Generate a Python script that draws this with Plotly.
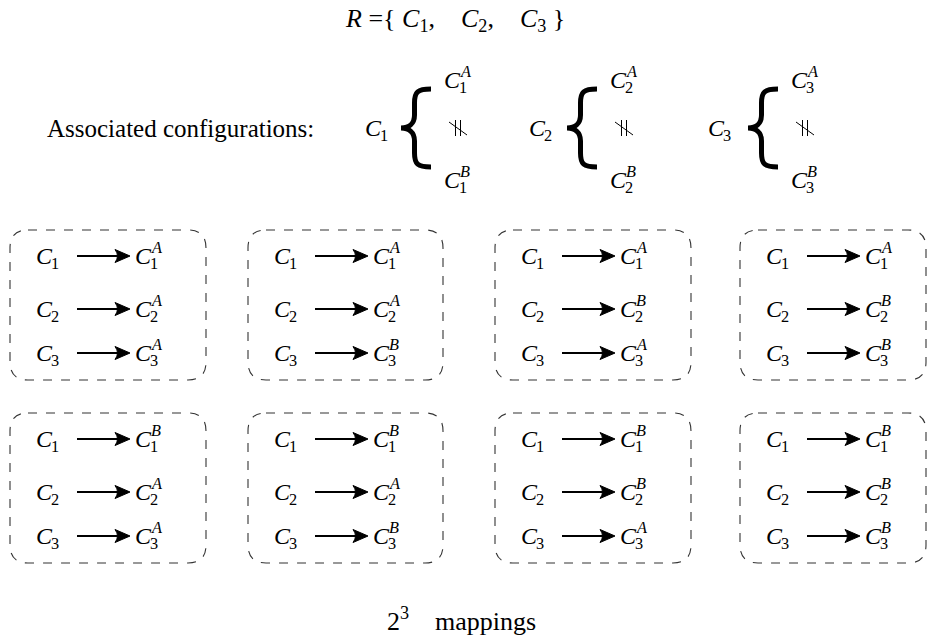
import plotly.graph_objects as go

# ---------------- data ----------------
config_ids = ["1", "2", "3"]
variants = ["A", "B"]
# the 2^3 mappings, row by row (choice of variant for C1, C2, C3)
mappings = [
    ["A", "A", "A"], ["A", "A", "B"], ["A", "B", "A"], ["A", "B", "B"],
    ["B", "A", "A"], ["B", "A", "B"], ["B", "B", "A"], ["B", "B", "B"],
]
title_label = "R"
assoc_label = "Associated configurations:"
footer_base = "2"
footer_exp = "3"
footer_text = "mappings"

# ---------------- layout constants ----------------
W, H = 931, 636
FONT = "Liberation Serif"
FS = 24
BLACK = "#000000"

box_left = [10, 248, 495, 740]
box_width = [196, 195, 196, 186]
box_top = [230, 413]
box_height = 150
row_offsets = [26, 79, 123]

group_x = [364, 528, 707]     # left of C_i in the "associated" section
group_y = 128

fig = go.Figure()
fig.add_trace(go.Scatter(x=[0, W], y=[0, H], mode="markers",
                         marker=dict(opacity=0), hoverinfo="skip"))

annotations = []
shapes = []


def text(x, y, s, size=FS, xanchor="left", italic=False):
    if italic:
        s = "<i>" + s + "</i>"
    annotations.append(dict(x=x, y=y, xref="x", yref="y", text=s, showarrow=False,
                            xanchor=xanchor, yanchor="middle", borderpad=0,
                            font=dict(family=FONT, size=size, color=BLACK)))


def var(x, y, sub, sup=None, size=FS):
    text(x, y, "C", size=size, italic=True)
    off = size * 0.64
    text(x + off, y + size * 0.30, sub, size=size * 0.68)
    if sup is not None:
        text(x + off + 1, y - size * 0.36, sup, size=size * 0.68, italic=True)


def arrow(x0, x1, y):
    shapes.append(dict(type="line", xref="x", yref="y", x0=x0, x1=x1 - 8, y0=y, y1=y,
                       line=dict(color=BLACK, width=2)))
    L, hw, n = 15, 6.5, 10
    path = (f"M {x1},{y} L {x1 - L},{y - hw} Q {x1 - n},{y} {x1 - L},{y + hw} Z")
    shapes.append(dict(type="path", xref="x", yref="y", path=path,
                       fillcolor=BLACK, line=dict(color=BLACK, width=1)))


def not_parallel(cx, cy):
    for dx in (-2.5, 2.5):
        shapes.append(dict(type="line", xref="x", yref="y", x0=cx + dx, x1=cx + dx,
                           y0=cy - 8, y1=cy + 8, line=dict(color=BLACK, width=1)))
    shapes.append(dict(type="line", xref="x", yref="y", x0=cx - 9, x1=cx + 9,
                       y0=cy - 6, y1=cy + 7, line=dict(color=BLACK, width=1)))


def rounded_box(x0, y0, w, h, r=18):
    x1, y1 = x0 + w, y0 + h
    path = (f"M {x0 + r},{y0} L {x1 - r},{y0} Q {x1},{y0} {x1},{y0 + r} "
            f"L {x1},{y1 - r} Q {x1},{y1} {x1 - r},{y1} L {x0 + r},{y1} "
            f"Q {x0},{y1} {x0},{y1 - r} L {x0},{y0 + r} Q {x0},{y0} {x0 + r},{y0} Z")
    shapes.append(dict(type="path", xref="x", yref="y", path=path,
                       line=dict(color="#333333", width=1.1, dash="dash")))


def brace(x0, cy, h=39, w=30):
    xs = x0 + w * 0.45
    p = (f"M {x0 + w},{cy - h} C {x0 + w * 0.55},{cy - h} {xs},{cy - h + 3} {xs},{cy - h + 14} "
         f"L {xs},{cy - 13} C {xs},{cy - 4} {x0 + w * 0.25},{cy} {x0},{cy} "
         f"C {x0 + w * 0.25},{cy} {xs},{cy + 4} {xs},{cy + 13} "
         f"L {xs},{cy + h - 14} C {xs},{cy + h - 3} {x0 + w * 0.55},{cy + h} {x0 + w},{cy + h}")
    shapes.append(dict(type="path", xref="x", yref="y", path=p,
                       line=dict(color=BLACK, width=5)))


# ---------------- title ----------------
parts = ",\u00a0\u00a0\u00a0 ".join(f"<i>C</i><sub>{c}</sub>" for c in config_ids)
text(455, 20, f"<i>{title_label}</i> ={{ " + parts + " }", xanchor="center", size=26)

# ---------------- associated configurations ----------------
text(46, group_y, assoc_label, size=25)
for i, c in enumerate(config_ids):
    gx = group_x[i]
    var(gx, group_y, c)
    bx = gx + 37 + (2 * i)
    brace(bx, group_y)
    vx = bx + 42
    var(vx, group_y - 48, c, variants[0])
    var(vx, group_y + 52, c, variants[1])
    not_parallel(vx + 15, group_y)

# ---------------- mapping boxes ----------------
for k, m in enumerate(mappings):
    row, col = divmod(k, 4)
    x0, y0 = box_left[col], box_top[row]
    rounded_box(x0, y0, box_width[col], box_height)
    for j, c in enumerate(config_ids):
        y = y0 + row_offsets[j]
        var(x0 + 25, y, c)
        arrow(x0 + 67, x0 + 120, y)
        var(x0 + 124, y, c, m[j])

# ---------------- footer ----------------
text(461, 619, f"{footer_base}<sup>{footer_exp}</sup>\u00a0\u00a0\u00a0 {footer_text}",
     xanchor="center", size=26)

fig.update_layout(
    width=W, height=H, margin=dict(l=0, r=0, t=0, b=0),
    paper_bgcolor="white", plot_bgcolor="white", showlegend=False,
    xaxis=dict(range=[0, W], visible=False, fixedrange=True),
    yaxis=dict(range=[H, 0], visible=False, fixedrange=True),
    annotations=annotations, shapes=shapes,
)

fig.write_html("out.html", config={"displayModeBar": False},
               post_script="document.body.style.margin='0';document.body.style.padding='0';")
